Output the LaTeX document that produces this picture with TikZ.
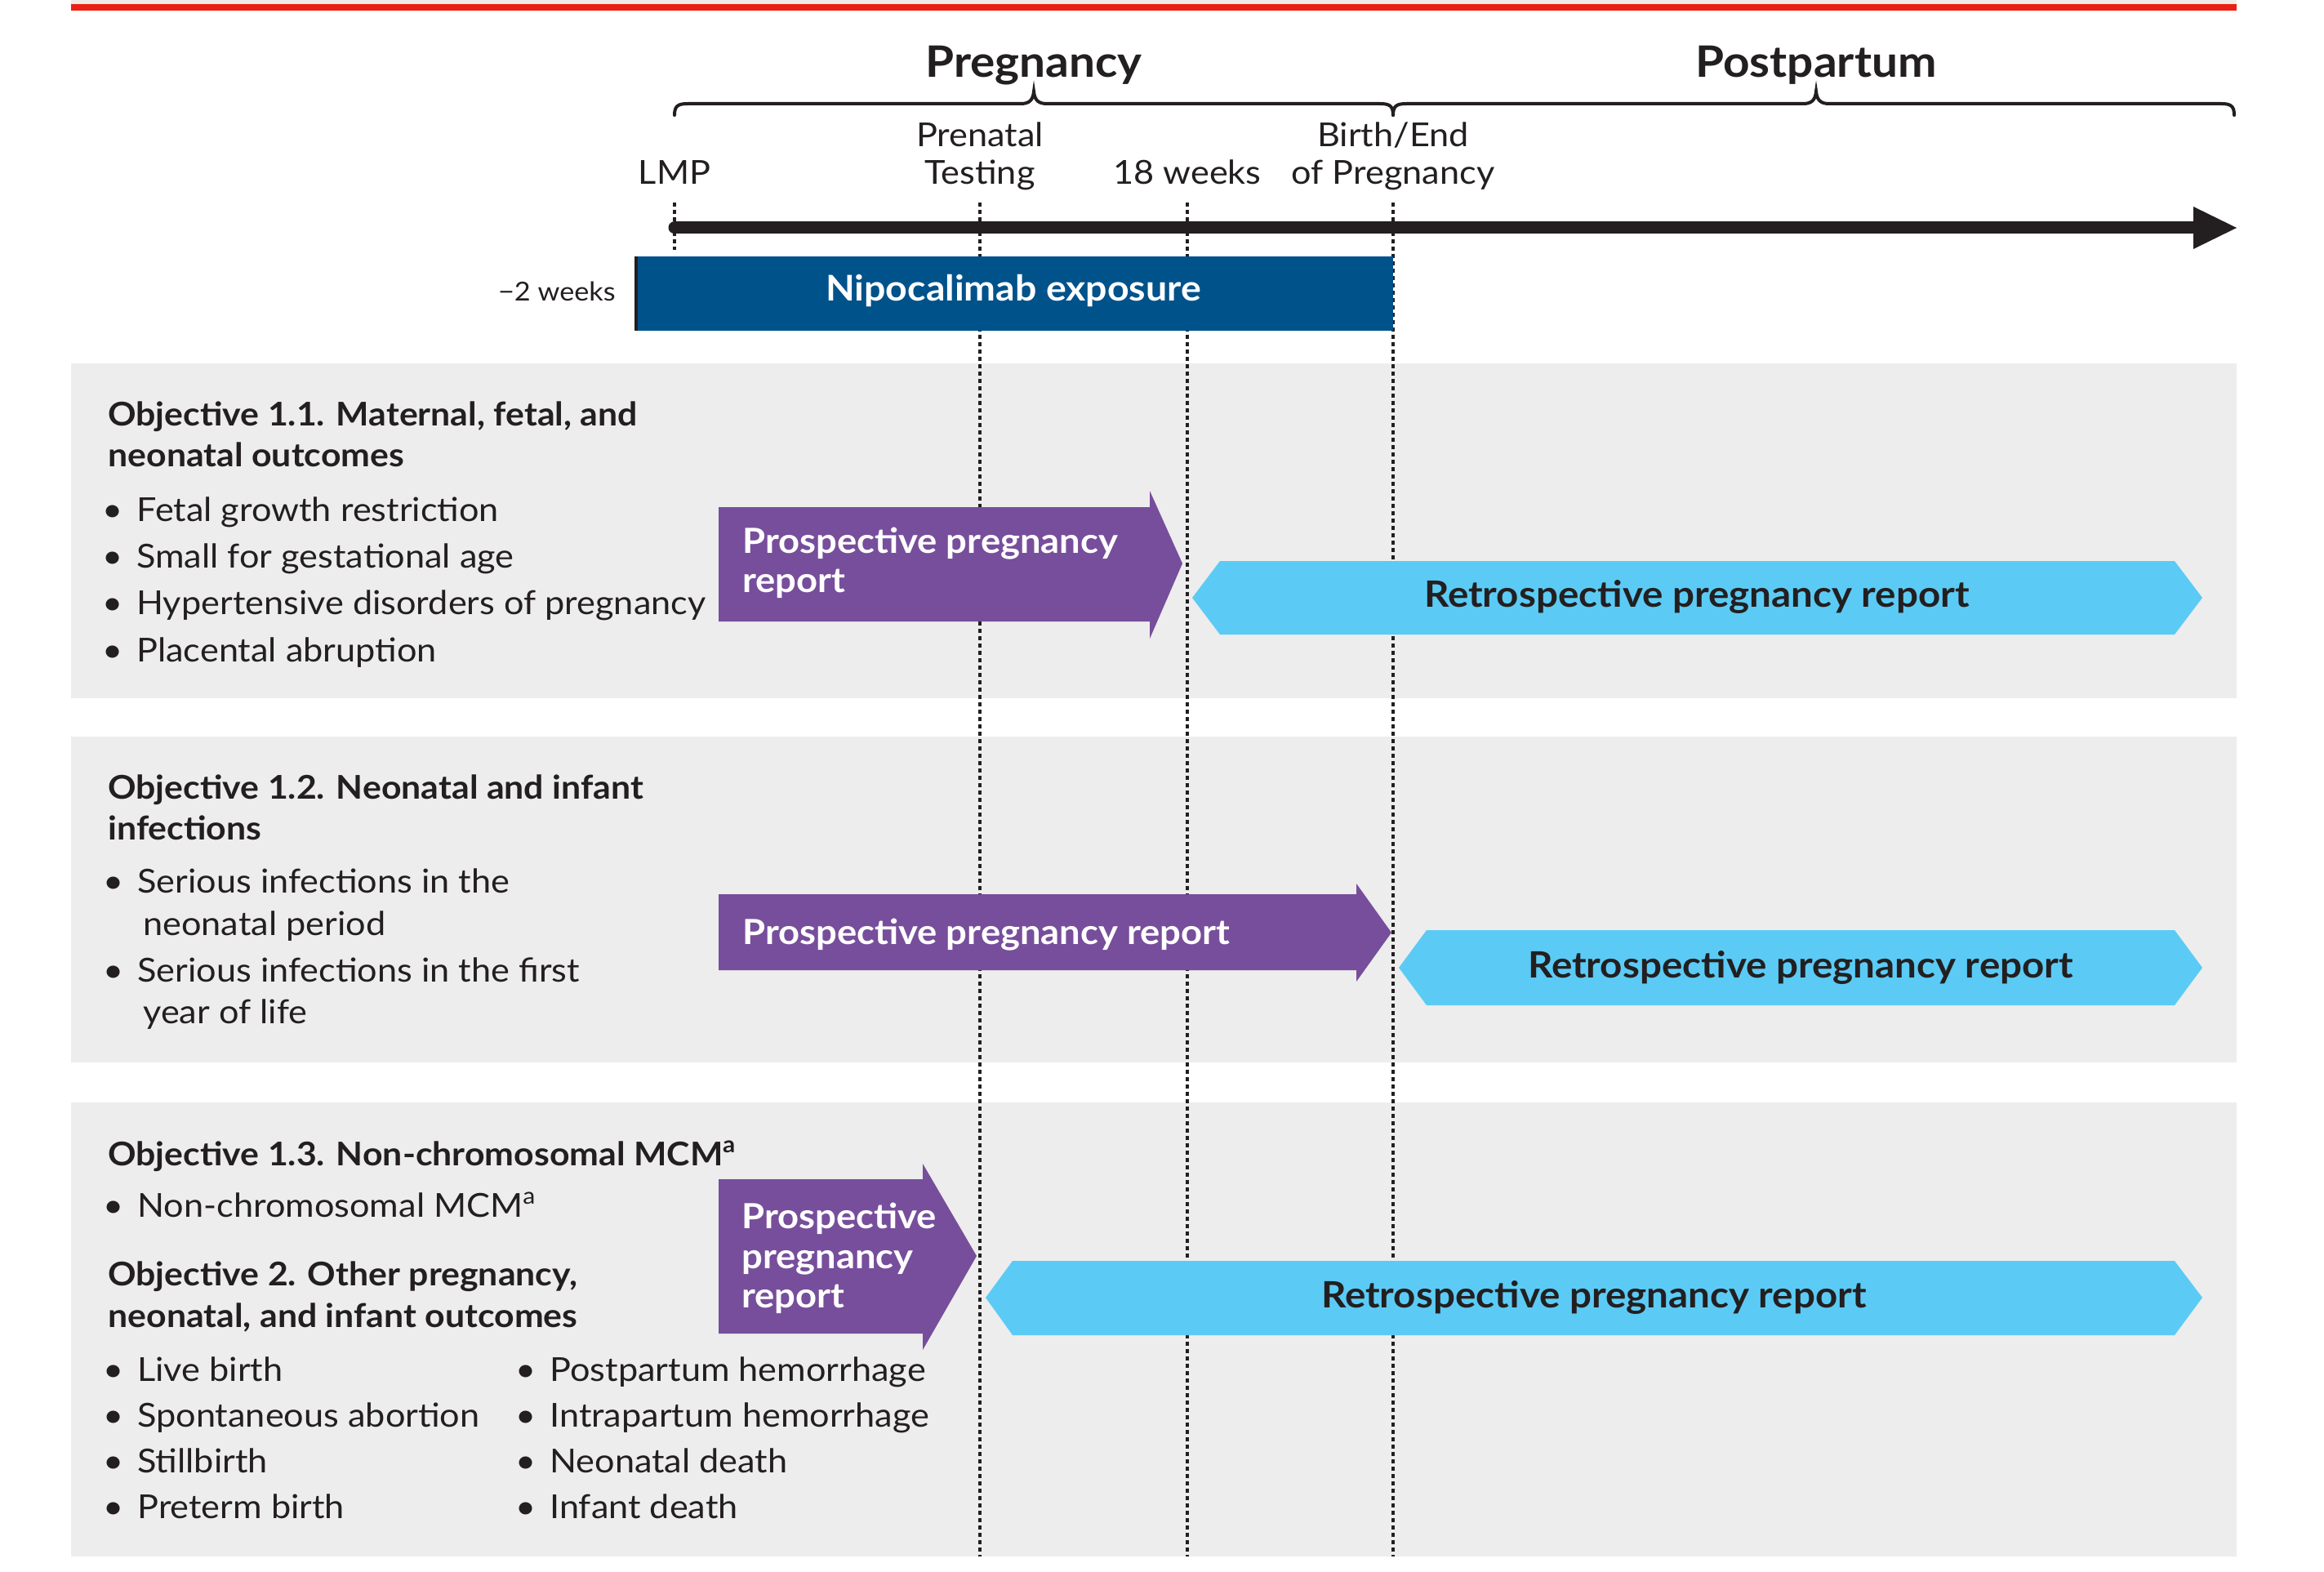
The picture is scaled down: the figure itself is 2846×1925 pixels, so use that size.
\documentclass[tikz,border=0pt]{standalone}
\usepackage{fontspec}
\setmainfont[FakeStretch=1.07]{Lato}
\definecolor{ink}{RGB}{35,31,32}
\definecolor{topred}{RGB}{235,32,20}
\definecolor{topgray}{RGB}{239,237,232}
\definecolor{panelgray}{RGB}{237,237,237}
\definecolor{navy}{RGB}{0,82,139}
\definecolor{violet}{RGB}{119,78,155}
\definecolor{sky}{RGB}{91,203,245}
\newcommand\fsmain{\fontsize{20.2}{24}\selectfont}
\newcommand\fsobj{\fontsize{20}{24}\selectfont\bfseries}
\newcommand\fsbig{\fontsize{26.5}{30}\selectfont\bfseries}
\newcommand\fssmall{\fontsize{16}{19}\selectfont}
\newcommand\fsnipo{\fontsize{21.7}{25}\selectfont\bfseries}
\newcommand\fspro{\fontsize{21.2}{25}\selectfont\bfseries}
\newcommand\fsret{\fontsize{22.2}{26}\selectfont\bfseries}
\newcommand\bul{\hspace{-14.5pt}\makebox[0pt]{•}\hspace{14.5pt}}
\begin{document}
\begin{tikzpicture}[x=0.5pt,y=-0.5pt,
  txt/.style={inner sep=0pt, anchor=base west, font=\fsmain, text=ink},
  btxt/.style={txt, font=\fsobj},
  ctxt/.style={txt, anchor=base},
  wtxt/.style={inner sep=0pt, anchor=base west, font=\fspro, text=white},
  rtxt/.style={inner sep=0pt, anchor=base, font=\fsret, text=ink},
  hdr/.style={inner sep=0pt, anchor=base, font=\fsbig, text=ink},
  dotline/.style={draw=ink, line width=2pt, dash pattern=on 2.5pt off 2pt},
  bracestyle/.style={draw=ink, line width=2pt, line cap=round},
  panelfill/.style={fill=panelgray},
  purplearrow/.style={fill=violet},
  bluehex/.style={fill=sky}
]
\useasboundingbox (0,0) rectangle (2846,1925);
\fill[white] (0,0) rectangle (2846,1925);
% top strip
\fill[topgray] (87,0) rectangle (2739,5);
\fill[topred] (87,5) rectangle (2739,13);
% panels
\fill[panelfill] (87,445) rectangle (2739,855);
\fill[panelfill] (87,902) rectangle (2739,1301);
\fill[panelfill] (87,1350) rectangle (2739,1906);
% vertical dotted lines
\coordinate (lmpT) at (826,248);
\coordinate (lmpB) at (826,306);
\coordinate (ptT) at (1200,248);
\coordinate (ptB) at (1200,1906);
\coordinate (wkT) at (1454,248);
\coordinate (wkB) at (1454,1906);
\coordinate (bT) at (1706,248);
\coordinate (bB) at (1706,1906);
\draw[dotline] (lmpT) -- (lmpB);
\draw[dotline] (ptT) -- (ptB);
\draw[dotline] (wkT) -- (wkB);
\draw[dotline] (bT) -- (bB);
% timeline
\coordinate (tlA) at (826,279);
\coordinate (tlB) at (2692,279);
\draw[ink, line width=7.5pt, line cap=round] (tlA) -- (tlB);
\fill[ink] (2686,253) -- (2739,279) -- (2686,305) -- cycle;
% braces
\draw[bracestyle] (826,141) .. controls (826,130) and (830,127) .. (842,127) -- (1250,127)
  .. controls (1260,127) and (1265,123) .. (1266,112)
  .. controls (1267,123) and (1272,127) .. (1282,127) -- (1690,127)
  .. controls (1702,127) and (1706,130) .. (1706,141);
\draw[bracestyle] (1706,141) .. controls (1706,130) and (1710,127) .. (1722,127) -- (2208,127)
  .. controls (2218,127) and (2223,123) .. (2224,112)
  .. controls (2225,123) and (2230,127) .. (2240,127) -- (2720,127)
  .. controls (2732,127) and (2736,130) .. (2736,141);
\node[hdr] (preg) at (1266,95) {Pregnancy};
\node[hdr] (post) at (2224,95) {Postpartum};
% milestone labels
\node[ctxt] (lmp) at (826,226) {LMP};
\node[ctxt] (pre1) at (1200,180) {Prenatal};
\node[ctxt] (pre2) at (1200,226) {Testing};
\node[ctxt] (wk18) at (1454,226) {18 weeks};
\node[ctxt] (bir1) at (1706,180) {Birth/End};
\node[ctxt] (bir2) at (1706,226) {of Pregnancy};
% exposure bar
\fill[navy] (777,314) rectangle (1706,405);
\draw[ink, line width=2pt] (779,314) -- (779,405);
\node[inner sep=0pt, anchor=base, font=\fsnipo, text=white] (nipo) at (1241,369) {Nipocalimab exposure};
\node[inner sep=0pt, anchor=base east, font=\fssmall, text=ink] (m2w) at (754,369) {−2 weeks};
% ---------- panel 1
\node[btxt] (o11a) at (132,522) {Objective 1.1. Maternal, fetal, and};
\node[btxt] (o11b) at (132,571) {neonatal outcomes};
\node[txt] (p1b1) at (167,638) {\bul Fetal growth restriction};
\node[txt] (p1b2) at (167,695) {\bul Small for gestational age};
\node[txt] (p1b3) at (167,752) {\bul Hypertensive disorders of pregnancy};
\node[txt] (p1b4) at (167,810) {\bul Placental abruption};
\fill[purplearrow] (880,621) -- (1408,621) -- (1408,601) -- (1448,690) -- (1408,782) -- (1408,761) -- (880,761) -- cycle;
\node[wtxt] (pr1a) at (909,677) {Prospective pregnancy};
\node[wtxt] (pr1b) at (909,725) {report};
\fill[bluehex] (1460,732) -- (1494,687) -- (2663,687) -- (2697,732) -- (2663,777) -- (1494,777) -- cycle;
\node[rtxt] (re1) at (2078,743) {Retrospective pregnancy report};
% ---------- panel 2
\node[btxt] (o12a) at (132,978) {Objective 1.2. Neonatal and infant};
\node[btxt] (o12b) at (132,1028) {infections};
\node[txt] (p2b1) at (168,1093) {\bul Serious infections in the};
\node[txt] (p2b1c) at (175,1145) {neonatal period};
\node[txt] (p2b2) at (168,1202) {\bul Serious infections in the first};
\node[txt] (p2b2c) at (175,1253) {year of life};
\fill[purplearrow] (880,1095) -- (1661,1095) -- (1661,1082) -- (1704,1142) -- (1661,1202) -- (1661,1188) -- (880,1188) -- cycle;
\node[wtxt] (pr2) at (909,1156) {Prospective pregnancy report};
\fill[bluehex] (1713,1185) -- (1747,1139) -- (2663,1139) -- (2697,1185) -- (2663,1231) -- (1747,1231) -- cycle;
\node[rtxt] (re2) at (2205,1197) {Retrospective pregnancy report};
% ---------- panel 3
\node[btxt] (o13) at (132,1427) {Objective 1.3. Non-chromosomal MCM\textsuperscript{a}};
\node[txt] (p3b0) at (168,1490) {\bul Non-chromosomal MCM\textsuperscript{a}};
\node[btxt] (o2a) at (132,1574) {Objective 2. Other pregnancy,};
\node[btxt] (o2b) at (132,1625) {neonatal, and infant outcomes};
\node[txt] (c1a) at (168,1691) {\bul Live birth};
\node[txt] (c1b) at (168,1747) {\bul Spontaneous abortion};
\node[txt] (c1c) at (168,1803) {\bul Stillbirth};
\node[txt] (c1d) at (168,1859) {\bul Preterm birth};
\node[txt] (c2a) at (673,1691) {\bul Postpartum hemorrhage};
\node[txt] (c2b) at (673,1747) {\bul Intrapartum hemorrhage};
\node[txt] (c2c) at (673,1803) {\bul Neonatal death};
\node[txt] (c2d) at (673,1859) {\bul Infant death};
\fill[purplearrow] (880,1444) -- (1130,1444) -- (1130,1425) -- (1196,1538) -- (1130,1653) -- (1130,1633) -- (880,1633) -- cycle;
\node[wtxt] (pr3a) at (908,1504) {Prospective};
\node[wtxt] (pr3b) at (908,1553) {pregnancy};
\node[wtxt] (pr3c) at (908,1601) {report};
\fill[bluehex] (1207,1589) -- (1240,1544) -- (2663,1544) -- (2697,1589) -- (2663,1635) -- (1240,1635) -- cycle;
\node[rtxt] (re3) at (1952,1601) {Retrospective pregnancy report};
\end{tikzpicture}
\end{document}
